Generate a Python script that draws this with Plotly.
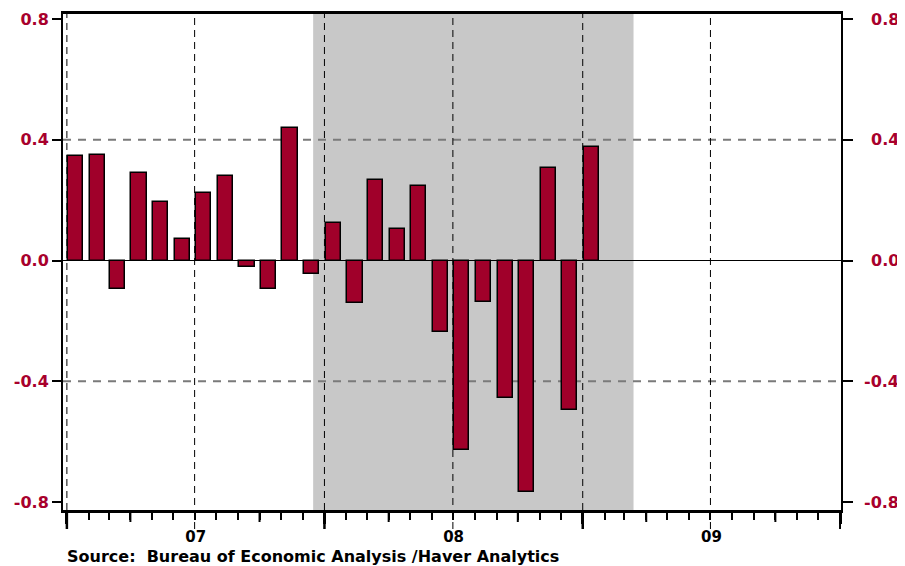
import plotly.graph_objects as go

# ---- data ----
months = ["2007-01-01", "2007-02-01", "2007-03-01", "2007-04-01", "2007-05-01", "2007-06-01",
          "2007-07-01", "2007-08-01", "2007-09-01", "2007-10-01", "2007-11-01", "2007-12-01",
          "2008-01-01", "2008-02-01", "2008-03-01", "2008-04-01", "2008-05-01", "2008-06-01",
          "2008-07-01", "2008-08-01", "2008-09-01", "2008-10-01", "2008-11-01", "2008-12-01",
          "2009-01-01"]
values = [0.345, 0.348, -0.094, 0.29, 0.193, 0.07, 0.222, 0.279, -0.02, -0.096, 0.44, -0.046,
          0.123, -0.142, 0.267, 0.103, 0.248, -0.238, -0.629, -0.136, -0.455, -0.766, 0.306,
          -0.495, 0.377]
y_ticks = [-0.8, -0.4, 0.0, 0.4, 0.8]
y_ticklabels = ["-0.8", "-0.4", "0.0", "0.4", "0.8"]
dashed_y = [-0.4, 0.4]
year_starts = ["2007-01-01", "2008-01-01", "2009-01-01", "2010-01-01"]
mid_years = ["2007-07-01", "2008-07-01", "2009-07-01"]
quarter_marks = ["2007-04-01", "2007-10-01", "2008-04-01", "2008-10-01", "2009-04-01", "2009-10-01"]
recession = ("2007-12-16", "2009-03-14")
source_text = "Source:  Bureau of Economic Analysis /Haver Analytics"

# ---- style ----
BAR = "#a0002a"
LAB = "#a8002c"
FONT = "DejaVu Sans"
DAY = 86400000
W, H = 897, 558          # page body adds an 8px offset
ML, MR, MT, MB = 55, 64, 6, 56
PLOT_H = H - MT - MB
y_range = [-0.8265, 0.8166]

fig = go.Figure()
fig.add_trace(go.Bar(
    x=months, y=values,
    marker=dict(color=BAR, line=dict(color="black", width=1.5)),
    width=[22 * DAY] * len(months), offset=1.5 * DAY,
    hoverinfo="skip", showlegend=False,
))
fig.add_trace(go.Scatter(
    x=months, y=values, yaxis="y2", mode="markers",
    marker=dict(opacity=0), hoverinfo="skip", showlegend=False,
))

shapes = []
shapes.append(dict(type="rect", xref="x", yref="paper", x0=recession[0], x1=recession[1],
                   y0=0, y1=1, fillcolor="#c8c8c8", line=dict(width=0), layer="below"))
for yv in dashed_y:
    shapes.append(dict(type="line", xref="paper", yref="y", x0=0, x1=1, y0=yv, y1=yv,
                       line=dict(color="#7a7a7a", width=2, dash="8px,7px"), layer="below"))
shapes.append(dict(type="line", xref="paper", yref="y", x0=0, x1=1, y0=0, y1=0,
                   line=dict(color="black", width=1), layer="below"))
for d in year_starts[:-1]:
    shapes.append(dict(type="line", xref="x", yref="paper", x0=d, x1=d, y0=0, y1=1,
                       line=dict(color="black", width=1, dash="7px,5px"), layer="above"))
for d in year_starts:
    shapes.append(dict(type="line", xref="x", yref="paper", x0=d, x1=d, y0=0, y1=-19 / PLOT_H,
                       line=dict(color="black", width=2.5), layer="above"))
for d in mid_years:
    shapes.append(dict(type="line", xref="x", yref="paper", x0=d, x1=d, y0=-19 / PLOT_H, y1=1,
                       line=dict(color="black", width=1, dash="7px,5px"), layer="above"))
for d in quarter_marks:
    shapes.append(dict(type="line", xref="x", yref="paper", x0=d, x1=d, y0=0, y1=-12 / PLOT_H,
                       line=dict(color="black", width=2), layer="above"))

annotations = []
for yv, txt in zip(y_ticks, y_ticklabels):
    annotations.append(dict(xref="paper", yref="y2", x=1, y=yv, text=txt, showarrow=False,
                            xanchor="right", yanchor="middle", xshift=60,
                            font=dict(family=FONT, size=16, color=LAB, weight="bold")))
annotations.append(dict(xref="paper", yref="paper", x=0, y=-(556 - 510) / PLOT_H,
                        text=source_text, showarrow=False, xanchor="left", yanchor="middle",
                        xshift=2, font=dict(family=FONT, size=16, color="black", weight="bold")))

fig.update_layout(
    width=W, height=H,
    margin=dict(l=ML, r=MR, t=MT, b=MB, autoexpand=False),
    paper_bgcolor="white", plot_bgcolor="white",
    bargap=0,
    shapes=shapes, annotations=annotations,
    xaxis=dict(
        type="date", range=["2006-12-26 12:00", "2010-01-02"],
        tick0="2007-01-01", dtick="M12", ticklabelmode="period", tickformat="%y",
        ticks="outside", ticklen=11, tickwidth=2.5, tickcolor="black",
        showline=True, linewidth=2.5, linecolor="black", mirror=True,
        showgrid=False, zeroline=False,
        tickfont=dict(family=FONT, size=15, color="black", weight="bold"),
        minor=dict(dtick="M1", tick0="2007-01-01", ticks="outside", ticklen=7,
                   tickwidth=1.5, tickcolor="black", showgrid=False),
    ),
    yaxis=dict(
        range=y_range, tickvals=y_ticks, ticktext=y_ticklabels,
        ticks="outside", ticklen=9, tickwidth=2, tickcolor="black",
        showline=True, linewidth=2, linecolor="black",
        showgrid=False, zeroline=False,
        tickfont=dict(family=FONT, size=16, color=LAB, weight="bold"),
    ),
    yaxis2=dict(
        range=y_range, tickvals=y_ticks, overlaying="y", side="right",
        ticks="outside", ticklen=10, tickwidth=2, tickcolor="black",
        showticklabels=False,
        showline=True, linewidth=2, linecolor="black",
        showgrid=False, zeroline=False,
    ),
)

fig.write_html("out.html")
